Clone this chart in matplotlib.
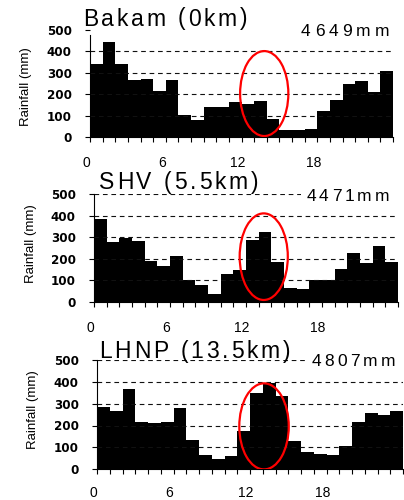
import matplotlib
matplotlib.use("Agg")
import numpy as np
import matplotlib.pyplot as plt
from matplotlib.patches import Ellipse, Rectangle
from matplotlib.font_manager import FontProperties
from matplotlib.transforms import ScaledTranslation

# Hourly rainfall totals (mm) for each station, hour 0..23
HOURS = np.arange(24)
BAKAM = [341, 444, 341, 266, 269, 215, 266, 103, 79, 140, 140, 164,
         154, 168, 84, 31, 31, 39, 121, 173, 248, 262, 210, 308]
SHV = [383, 275, 297, 284, 188, 165, 212, 100, 77, 36, 128, 147,
       286, 323, 184, 63, 59, 100, 100, 151, 226, 181, 258, 184]
LHNP = [283, 266, 367, 216, 210, 216, 280, 134, 65, 47, 61, 175,
        348, 394, 335, 129, 79, 70, 65, 106, 216, 257, 248, 266]

STATIONS = ["Bakam (0km)", "SHV (5.5km)", "LHNP (13.5km)"]
TOTALS = ["4649mm", "4471mm", "4807mm"]
SERIES = [BAKAM, SHV, LHNP]

# Afternoon peak highlight: (centre hour, centre mm, width h, height mm)
HIGHLIGHTS = [(13.8, 203, 3.82, 397), (13.4, 209, 3.8, 402), (13.1, 196, 3.88, 393)]

Y_TICKS = [0, 100, 200, 300, 400, 500]
X_LABELS = [0, 6, 12, 18]

W, H = 404, 500
fig = plt.figure(figsize=(W / 100, H / 100), dpi=100)

# Panel rectangles in pixels: left, right, top (500 mm), bottom (0 mm)
PANELS = [(90, 393, 30, 137), (94, 398, 194, 301.7), (97, 403, 359.8, 469.3)]
SPINE_TOP = [477, 500, 500]
GRID_LEVELS = [[100, 200, 300, 400], [100, 200, 300, 400, 500], [100, 200, 300, 400, 500]]
# Title / total text boxes in pixels: (left, right, baseline)
TITLE_BOX = [(83, 247, 25.5), (99, 258, 189), (99, 290, 358)]
TOTAL_BOX = [(301, 389, 36), (306.5, 389, 201), (312, 395, 366.5)]
YLABEL_POS = [(26, 87), (31, 243.5), (33, 410)]
XLABEL_DROP = [19, 19.5, 16.5]

renderer = fig.canvas.get_renderer()


def tracked_text(s, left, right, baseline, size, family="Liberation Sans",
                 backdrop=False):
    """Draw a string letter by letter, spread evenly between left and right (pixels)."""
    fp = FontProperties(family=family, size=size)

    def width(t):
        w, _, _ = renderer.get_text_width_height_descent(t, fp, ismath=False)
        return w

    space_w = width("a a") - width("aa")
    widths = [space_w if c == " " else width(c) for c in s]
    gap = (right - left - sum(widths)) / (len(s) - 1)
    if backdrop:
        cap = size * 100 / 72 * 0.72
        pad_l, pad_r = 6, 12
        fig.add_artist(Rectangle(((left - pad_l) / W, 1 - (baseline + 3) / H),
                                 (right - left + pad_l + pad_r) / W, (cap + 6) / H,
                                 transform=fig.transFigure, facecolor="white",
                                 edgecolor="none", zorder=2))
    x = left
    for c, w in zip(s, widths):
        if c != " ":
            fig.text(x / W, 1 - baseline / H, c, fontproperties=fp,
                     ha="left", va="baseline", zorder=3)
        x += w + gap


for i, (vals, rect) in enumerate(zip(SERIES, PANELS)):
    l, r, t, b = rect
    ax = fig.add_axes([l / W, 1 - b / H, (r - l) / W, (b - t) / H])
    ax.bar(HOURS, vals, width=1.0, align="edge", color="black", linewidth=0, zorder=2)

    for lev in GRID_LEVELS[i]:
        ln = ax.axhline(lev, color="#111111", linewidth=0.8, zorder=3)
        ln.set_dashes([4.2, 3.4])

    cx, cy, ew, eh = HIGHLIGHTS[i]
    ax.add_patch(Ellipse((cx, cy), ew, eh, fill=False, edgecolor="#ff0000",
                         linewidth=1.6, zorder=4))

    ax.set_xlim(0, 24)
    ax.set_ylim(0, 500)
    for s in ("top", "right"):
        ax.spines[s].set_visible(False)
    ax.spines["left"].set_bounds(0, SPINE_TOP[i])
    ax.spines["left"].set_linewidth(0.8)
    ax.spines["bottom"].set_linewidth(0.8)
    ax.spines["left"].set_zorder(5)

    ax.set_yticks(Y_TICKS)
    ax.set_yticklabels([str(v) for v in Y_TICKS])
    ax.tick_params(axis="y", length=3.6, width=0.8, pad=9.5, labelsize=8.6)
    for lbl in ax.get_yticklabels():
        lbl.set_fontfamily("DejaVu Sans")
        lbl.set_fontweight("bold")

    ax.set_xticks(np.arange(0, 25, 1))
    ax.set_xticklabels([])
    ax.tick_params(axis="x", length=3.4, width=0.8, direction="out")
    shift = ScaledTranslation(-4 / 100, -XLABEL_DROP[i] / 100, fig.dpi_scale_trans)
    for h in X_LABELS:
        ax.text(h, 0, str(h), transform=ax.get_xaxis_transform() + shift,
                ha="center", va="top", fontsize=10, family="Liberation Sans")

    yx, yy = YLABEL_POS[i]
    fig.text(yx / W, 1 - yy / H, "Rainfall (mm)", rotation=90, ha="center",
             va="center", fontsize=9.5, family="Liberation Sans")

    tl, tr, tb = TITLE_BOX[i]
    tracked_text(STATIONS[i], tl, tr, tb, 16.5)
    ol, orr, ob = TOTAL_BOX[i]
    tracked_text(TOTALS[i], ol, orr, ob, 12.5, backdrop=True)

fig.savefig("out.png", dpi=100)
